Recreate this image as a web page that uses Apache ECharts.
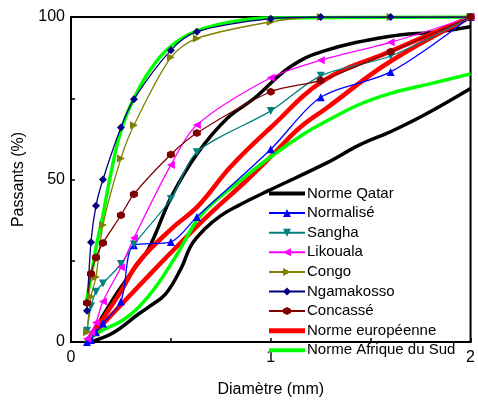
<!DOCTYPE html>
<html>
<head>
<meta charset="utf-8">
<script src="https://cdn.jsdelivr.net/npm/echarts@6/dist/echarts.min.js"></script>
<style>
html,body{margin:0;padding:0;background:#fff;}
#chart{width:478px;height:403px;}
</style>
</head>
<body>
<div id="chart"></div>
<script>
// tamis (mm)
var sieves = [0.08, 0.1, 0.125, 0.16, 0.25, 0.315, 0.5, 0.63, 1, 1.25, 1.6, 2];

var normalise  = [0, 0.6, 3, 5.7, 12.5, 29.8, 30.8, 38.5, 59.3, 75.3, 83.1, 100];
var sangha     = [3.5, 11, 15.5, 18, 24, 30, 44, 58.4, 71.1, 81.9, 88, 100];
var likouala   = [1, 3, 6, 12.5, 23, 32, 54.5, 66.8, 81.3, 86.7, 92.2, 100];
var congo      = [3, 14, 20, 36, 56.5, 66.7, 87.6, 93.4, 98.5, 100, 100, 100];
var ngamakosso = [9.6, 30.7, 41.9, 50, 66, 74.7, 89.8, 95.5, 99.5, 100, 100, 100];
var concasse   = [12, 21, 26, 30.5, 39, 45.5, 57.7, 64.3, 77, 80.5, 89.3, 100];

// fuseaux (bornes inf / sup)
var qatarSupX = [0.08, 0.128, 0.227, 0.306, 0.39, 0.504, 0.637, 0.785, 0.918, 1.096, 1.264, 1.59, 1.837, 2];
var qatarSupY = [0, 4.8, 14.8, 21.7, 28.9, 44.9, 58.4, 69, 75, 84.6, 89.5, 94, 95.5, 97];
var qatarInfX = [0.094, 0.207, 0.34, 0.39, 0.474, 0.553, 0.602, 0.672, 0.75, 0.835, 0.983, 1.28, 1.44, 1.61, 1.77, 2];
var qatarInfY = [0, 2.7, 8.7, 10.8, 14.8, 22.9, 29.8, 34.9, 38.9, 41.9, 46.4, 55.1, 60.5, 65, 69.9, 78];

var euroSupX = [0.075, 0.143, 0.242, 0.34, 0.504, 0.637, 0.8, 1, 1.264, 1.59, 2];
var euroSupY = [0, 5.7, 14.8, 24.7, 34.9, 41.9, 54, 66, 80.4, 89.2, 100];
var euroInfX = [0.075, 0.39, 0.54, 0.686, 0.884, 1, 1.146, 1.28, 1.59, 2];
var euroInfY = [0, 20.5, 30, 38.9, 50, 57, 66, 72, 86, 100];

var afsSupX = [0.075, 0.1, 0.125, 0.16, 0.2, 0.25, 0.315, 0.4, 0.5, 0.63, 0.8, 1, 2];
var afsSupY = [12, 20, 29, 39, 52, 65, 75, 84, 91, 95.7, 98.5, 99.7, 100];
var afsInfX = [0.07, 0.158, 0.257, 0.34, 0.424, 0.538, 0.65, 0.835, 1, 1.165, 1.28, 1.44, 1.6, 1.8, 2];
var afsInfY = [0, 3.6, 6.6, 10.8, 16.9, 27.7, 39, 49, 57, 64, 68, 73, 76.5, 79.5, 82.5];

var legendNames = ['Norme Qatar', 'Normalisé', 'Sangha', 'Likouala', 'Congo', 'Ngamakosso', 'Concassé', 'Norme européenne', 'Norme Afrique du Sud'];

function pairs(xs, ys) {
	var out = [];
	for (var i = 0; i < xs.length; i++) {
		out.push([xs[i], ys[i]]);
	}
	return out;
}

var hexagon = 'path://M0,-1 L0.866,-0.5 L0.866,0.5 L0,1 L-0.866,0.5 L-0.866,-0.5 Z';
// trait epais pour les normes dans la legende
var barThick = 'path://M0,0 L36,0 L36,4 L0,4 Z';
var barRed = 'path://M0,0 L36,0 L36,5 L0,5 Z';

function mesure(name, values, color, symbol, rotate, size) {
	return {
		name: name,
		type: 'line',
		data: pairs(sieves, values),
		smooth: 0.3,
		symbol: symbol,
		symbolSize: size,
		symbolRotate: rotate,
		showSymbol: true,
		lineStyle: { color: color, width: 1.3 },
		itemStyle: { color: color },
		z: 3
	};
}

function norme(name, xs, ys, color, width) {
	return {
		name: name,
		type: 'line',
		data: pairs(xs, ys),
		smooth: 0.4,
		symbol: 'none',
		lineStyle: { color: color, width: width },
		itemStyle: { color: color },
		z: 2
	};
}

var series = [
	norme('Norme Qatar', qatarSupX, qatarSupY, '#000000', 3.5),
	norme('Norme Qatar', qatarInfX, qatarInfY, '#000000', 3.5),
	mesure('Normalisé', normalise, '#0000ff', 'triangle', 0, 8),
	mesure('Sangha', sangha, '#008080', 'triangle', 180, 8),
	mesure('Likouala', likouala, '#ff00ff', 'triangle', 90, 8),
	mesure('Congo', congo, '#808000', 'triangle', -90, 8),
	mesure('Ngamakosso', ngamakosso, '#000080', 'diamond', 0, 8),
	mesure('Concassé', concasse, '#800000', hexagon, 0, 8),
	norme('Norme européenne', euroSupX, euroSupY, '#ff0000', 4.5),
	norme('Norme européenne', euroInfX, euroInfY, '#ff0000', 4.5),
	norme('Norme Afrique du Sud', afsSupX, afsSupY, '#00ff00', 3.5),
	norme('Norme Afrique du Sud', afsInfX, afsInfY, '#00ff00', 3.5)
];

var legendData = [];
for (var i = 0; i < legendNames.length; i++) {
	var item = { name: legendNames[i] };
	if (legendNames[i] == 'Norme européenne') {
		item.icon = barRed;
	} else if (legendNames[i].indexOf('Norme') == 0) {
		item.icon = barThick;
	}
	legendData.push(item);
}

var myChart = echarts.init(document.getElementById('chart'));
var font = 'Liberation Sans, Arial, sans-serif';
var option = {
	animation: false,
	backgroundColor: '#ffffff',
	grid: {
		left: 71, right: 3, top: 17, bottom: 54,
		show: true, borderColor: '#000', borderWidth: 2
	},
	legend: {
		data: legendData,
		orient: 'vertical',
		left: 268, top: 186,
		itemWidth: 36, itemHeight: 10, itemGap: 4.6,
		symbolKeepAspect: true,
		textStyle: { fontFamily: font, fontSize: 15, color: '#000', padding: [0, 0, 0, -3] },
		padding: 0
	},
	xAxis: {
		type: 'value', min: 0, max: 2, interval: 1,
		name: 'Diamètre (mm)', nameLocation: 'middle', nameGap: 40,
		nameTextStyle: { fontFamily: font, fontSize: 16, color: '#000' },
		axisLine: { lineStyle: { color: '#000', width: 2 } },
		axisTick: { inside: true, length: 4, lineStyle: { color: '#000', width: 1.5 } },
		minorTick: { show: true, splitNumber: 2, length: 4, lineStyle: { color: '#000', width: 1.5 } },
		axisLabel: { fontFamily: font, fontSize: 16, color: '#000', margin: 8 },
		splitLine: { show: false }
	},
	yAxis: {
		type: 'value', min: 0, max: 100, interval: 50,
		name: 'Passants (%)', nameLocation: 'middle', nameGap: 44,
		nameTextStyle: { fontFamily: font, fontSize: 16, color: '#000' },
		axisLine: { show: true, lineStyle: { color: '#000', width: 2 } },
		axisTick: { show: true, inside: true, length: 4, lineStyle: { color: '#000', width: 1.5 } },
		minorTick: { show: true, splitNumber: 2, length: 4, lineStyle: { color: '#000', width: 1.5 } },
		axisLabel: { fontFamily: font, fontSize: 16, color: '#000', margin: 6 },
		splitLine: { show: false }
	},
	series: series
};
myChart.setOption(option);
</script>
</body>
</html>
